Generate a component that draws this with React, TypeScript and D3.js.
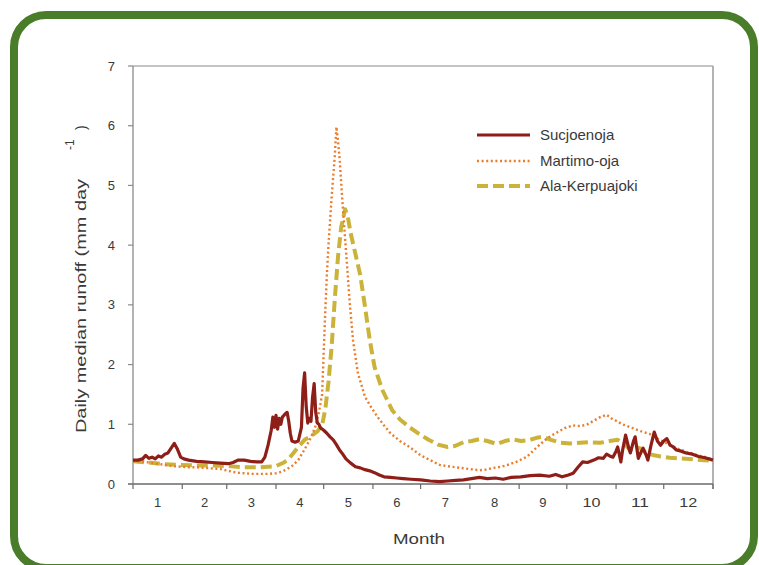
import React from "react";
import * as d3 from "d3";

// Daily median runoff (mm/day) by day of year, [day, value]
const sucjoenoja: [number, number][] = [
  [0, 0.4], [3, 0.4], [6, 0.42], [8, 0.48], [10, 0.43], [12, 0.45], [14, 0.42], [16, 0.47], [18, 0.45],
  [20, 0.5], [22, 0.52], [24, 0.6], [26, 0.68], [28, 0.58], [30, 0.45], [32, 0.42], [35, 0.4], [40, 0.38],
  [45, 0.37], [50, 0.36], [55, 0.35], [60, 0.34], [63, 0.36], [66, 0.4], [70, 0.4], [74, 0.38], [78, 0.37],
  [81, 0.37], [83, 0.45], [85, 0.65], [87, 0.9], [88, 1.12], [89, 0.95], [90, 1.15], [91, 0.92], [92, 1.1],
  [93, 1.0], [94, 1.12], [96, 1.18], [97, 1.2], [98, 1.05], [99, 0.85], [100, 0.72], [102, 0.7], [104, 0.72],
  [106, 0.95], [107, 1.6], [108, 1.86], [109, 1.3], [110, 1.02], [111, 1.1], [112, 1.05], [113, 1.45],
  [114, 1.68], [115, 1.2], [116, 1.02], [117, 1.0], [118, 0.94], [119, 0.92], [120, 0.9], [122, 0.85],
  [124, 0.79], [126, 0.74], [128, 0.66], [130, 0.57], [132, 0.5], [134, 0.42], [137, 0.35], [140, 0.29],
  [143, 0.27], [146, 0.24], [149, 0.22], [152, 0.19], [155, 0.15], [158, 0.12], [162, 0.11], [166, 0.1],
  [170, 0.09], [175, 0.08], [181, 0.07], [187, 0.05], [193, 0.04], [198, 0.05], [203, 0.06], [208, 0.07],
  [213, 0.09], [218, 0.11], [223, 0.09], [228, 0.1], [233, 0.08], [238, 0.11], [244, 0.12], [250, 0.14],
  [256, 0.15], [262, 0.13], [266, 0.16], [270, 0.12], [274, 0.15], [277, 0.18], [280, 0.28], [283, 0.37],
  [286, 0.36], [290, 0.4], [293, 0.44], [296, 0.43], [298, 0.5], [300, 0.47], [302, 0.45], [304, 0.55],
  [305, 0.62], [306, 0.5], [307, 0.37], [308, 0.55], [310, 0.82], [312, 0.6], [313, 0.52], [315, 0.72],
  [316, 0.79], [318, 0.43], [320, 0.55], [321, 0.6], [323, 0.48], [324, 0.4], [326, 0.65], [328, 0.87],
  [330, 0.72], [332, 0.65], [334, 0.72], [336, 0.76], [338, 0.65], [340, 0.62], [342, 0.57], [345, 0.55],
  [348, 0.52], [352, 0.5], [356, 0.46], [360, 0.44], [365, 0.4],
];

const martimoOja: [number, number][] = [
  [0, 0.38], [5, 0.38], [10, 0.36], [15, 0.34], [20, 0.32], [25, 0.3], [30, 0.29], [35, 0.28], [40, 0.28],
  [45, 0.27], [50, 0.26], [55, 0.25], [60, 0.22], [65, 0.19], [70, 0.18], [75, 0.17], [80, 0.17], [85, 0.17],
  [90, 0.18], [94, 0.21], [97, 0.25], [100, 0.3], [104, 0.4], [108, 0.58], [112, 0.78], [115, 0.98],
  [117, 1.2], [119, 1.5], [120, 2.2], [121, 2.9], [122, 3.5], [123, 4.0], [125, 4.8], [127, 5.5], [128, 5.98],
  [129, 5.75], [130, 5.45], [132, 4.65], [133.5, 4.1], [135, 3.55], [136.5, 3.0], [138.5, 2.4], [141.5, 1.86],
  [146, 1.46], [150, 1.28], [154, 1.12], [158, 0.98], [162, 0.85], [168, 0.72], [174, 0.62], [181, 0.48],
  [187, 0.4], [193, 0.32], [200, 0.29], [206, 0.27], [212, 0.25], [218, 0.23], [222, 0.24], [227, 0.27],
  [232, 0.29], [237, 0.33], [242, 0.38], [248, 0.46], [252, 0.56], [256, 0.66], [260, 0.75], [264, 0.82],
  [268, 0.88], [272, 0.94], [277, 0.98], [282, 0.97], [286, 1.0], [290, 1.06], [294, 1.12], [298, 1.16],
  [301, 1.1], [304, 1.06], [308, 1.0], [312, 0.96], [316, 0.92], [320, 0.88], [325, 0.84], [330, 0.76],
  [336, 0.68], [342, 0.6], [349, 0.53], [356, 0.48], [363, 0.43], [365, 0.42],
];

const alaKerpuajoki: [number, number][] = [
  [0, 0.38], [10, 0.36], [20, 0.33], [30, 0.32], [40, 0.31], [50, 0.31], [60, 0.3], [70, 0.28], [80, 0.28],
  [90, 0.3], [95, 0.36], [98, 0.42], [101, 0.52], [104, 0.62], [108, 0.74], [112, 0.8], [116, 0.88],
  [119, 0.98], [121, 1.25], [123, 1.7], [125, 2.3], [127, 3.1], [129, 3.8], [131, 4.3], [133.5, 4.6],
  [135, 4.5], [137, 4.2], [140, 3.85], [143, 3.5], [146, 2.97], [149, 2.41], [152, 1.96], [157, 1.57],
  [163, 1.24], [168, 1.08], [174, 0.95], [180, 0.84], [186, 0.74], [192, 0.66], [198, 0.62], [203, 0.64],
  [208, 0.7], [213, 0.72], [218, 0.75], [223, 0.72], [229, 0.67], [234, 0.72], [239, 0.75], [244, 0.72],
  [250, 0.74], [255, 0.78], [258, 0.79], [263, 0.74], [269, 0.69], [275, 0.68], [281, 0.69], [287, 0.7],
  [294, 0.69], [300, 0.72], [305, 0.74], [310, 0.65], [313, 0.57], [316, 0.62], [319, 0.6], [323, 0.52],
  [328, 0.48], [332, 0.46], [338, 0.44], [344, 0.43], [350, 0.42], [357, 0.4], [365, 0.39],
];

const seriesNames = ["Sucjoenoja", "Martimo-oja", "Ala-Kerpuajoki"];
const monthLabels = ["1", "2", "3", "4", "5", "6", "7", "8", "9", "10", "11", "12"];
const monthStarts = [0, 31, 59, 90, 120, 151, 181, 212, 243, 273, 304, 334, 365];
const yTicks = [0, 1, 2, 3, 4, 5, 6, 7];

const W = 759;
const H = 565;
const plot = { left: 133, right: 713, top: 66, bottom: 484 };
const font = "'Liberation Sans', Arial, sans-serif";
const textColor = "#3a3a3a";

const styles = [
  { color: "#8e1e18", width: 3.2, dash: "" },
  { color: "#ea7d2c", width: 2.4, dash: "2,2.6" },
  { color: "#cbb33a", width: 4, dash: "11,5" },
];

export default function App() {
  const x = d3.scaleLinear().domain([0, 365]).range([plot.left, plot.right]);
  const y = d3.scaleLinear().domain([0, 7]).range([plot.bottom, plot.top]);
  const line = d3
    .line<[number, number]>()
    .x((d) => x(d[0]))
    .y((d) => y(d[1]));

  const series = [sucjoenoja, martimoOja, alaKerpuajoki];
  const drawOrder = [2, 1, 0];

  return (
    <svg
      width={W}
      height={H}
      style={{ position: "absolute", left: 0, top: 0, display: "block", background: "#fff" }}
      fontFamily={font}
    >
      <rect x={14} y={15} width={740} height={553} rx={32} ry={32} fill="#fff" stroke="#4a7d2a" strokeWidth={8} />

      {/* frame */}
      <line x1={plot.left} x2={plot.right} y1={plot.top} y2={plot.top} stroke="#c4c4c4" strokeWidth={2} />
      <line x1={plot.right} x2={plot.right} y1={plot.top} y2={plot.bottom + 5} stroke="#9a9a9a" strokeWidth={1.5} />
      <line x1={plot.left} x2={plot.left} y1={plot.top} y2={plot.bottom} stroke="#9a9a9a" strokeWidth={1.5} />
      <line x1={plot.left - 5} x2={plot.right} y1={plot.bottom} y2={plot.bottom} stroke="#6a6a6a" strokeWidth={1.5} />

      {/* y axis */}
      {yTicks.map((t) => (
        <g key={`y${t}`}>
          <line x1={plot.left - 5} x2={plot.left} y1={y(t)} y2={y(t)} stroke="#8a8a8a" strokeWidth={1.2} />
          <text x={115} y={y(t) + 4.5} textAnchor="end" fontSize={13} fill={textColor}>
            {t}
          </text>
        </g>
      ))}

      {/* x axis */}
      {monthStarts.map((d) => (
        <line key={`xt${d}`} x1={x(d)} x2={x(d)} y1={plot.bottom} y2={plot.bottom + 5} stroke="#6a6a6a" strokeWidth={1.2} />
      ))}
      {monthLabels.map((m, i) => (
        <text
          key={`xl${m}`}
          x={x((monthStarts[i] + monthStarts[i + 1]) / 2)}
          y={507}
          textAnchor="middle"
          fontSize={13}
          fill={textColor}
          {...(m.length > 1 ? { textLength: 18, lengthAdjust: "spacingAndGlyphs" } : {})}
        >
          {m}
        </text>
      ))}

      <text x={419} y={544} textAnchor="middle" fontSize={15} fill={textColor} textLength={52} lengthAdjust="spacingAndGlyphs">
        Month
      </text>

      <g transform="translate(86,433) rotate(-90)" fill={textColor}>
        <text x={0} y={0} fontSize={14} textLength={254} lengthAdjust="spacingAndGlyphs">
          Daily median runoff (mm day
        </text>
        <text x={283} y={-12} fontSize={12}>
          -1
        </text>
        <text x={303} y={0} fontSize={14}>
          )
        </text>
      </g>

      {/* series */}
      {drawOrder.map((i) => (
        <path
          key={seriesNames[i]}
          d={line(series[i]) ?? ""}
          fill="none"
          stroke={styles[i].color}
          strokeWidth={styles[i].width}
          strokeDasharray={styles[i].dash || undefined}
          strokeLinejoin="round"
        />
      ))}

      {/* legend */}
      {seriesNames.map((name, i) => {
        const ly = [135, 161, 186][i];
        return (
          <g key={`lg${name}`}>
            <line x1={477} x2={530} y1={ly} y2={ly} stroke={styles[i].color} strokeWidth={styles[i].width} strokeDasharray={styles[i].dash || undefined} />
            <text x={540} y={ly + 5} fontSize={15} fill={textColor}>
              {name}
            </text>
          </g>
        );
      })}
    </svg>
  );
}
